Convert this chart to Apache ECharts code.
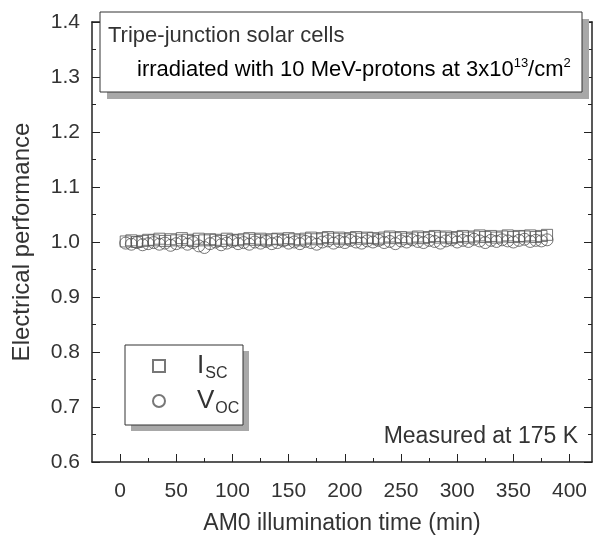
<!DOCTYPE html>
<html>
<head>
<meta charset="utf-8">
<script src="https://cdn.jsdelivr.net/npm/echarts@6/dist/echarts.min.js"></script>
<style>
  html, body { margin: 0; padding: 0; background: #fff; }
  #chart { width: 600px; height: 535px; }
</style>
</head>
<body>
<div id="chart"></div>
<script>
// illumination time (min)
const time = [
  5, 10, 15, 20, 25, 30, 35, 40, 45, 50,
  55, 60, 65, 70, 75, 80, 85, 90, 95, 100,
  105, 110, 115, 120, 125, 130, 135, 140, 145, 150,
  155, 160, 165, 170, 175, 180, 185, 190, 195, 200,
  205, 210, 215, 220, 225, 230, 235, 240, 245, 250,
  255, 260, 265, 270, 275, 280, 285, 290, 295, 300,
  305, 310, 315, 320, 325, 330, 335, 340, 345, 350,
  355, 360, 365, 370, 375, 380
];

// normalised short-circuit current
const isc = [
  1.001, 1.003, 1.000, 1.002, 1.004, 1.003, 1.006, 1.002, 1.005, 1.003,
  1.007, 1.004, 1.002, 1.006, 1.003, 1.005, 1.004, 1.002, 1.006, 1.004,
  1.003, 1.005, 1.007, 1.004, 1.006, 1.003, 1.005, 1.006, 1.004, 1.007,
  1.005, 1.003, 1.006, 1.008, 1.005, 1.007, 1.009, 1.006, 1.008, 1.005,
  1.007, 1.009, 1.006, 1.008, 1.007, 1.005, 1.008, 1.010, 1.007, 1.009,
  1.006, 1.008, 1.010, 1.007, 1.009, 1.011, 1.008, 1.010, 1.007, 1.009,
  1.011, 1.008, 1.010, 1.012, 1.009, 1.011, 1.008, 1.010, 1.012, 1.009,
  1.011, 1.010, 1.012, 1.009, 1.011, 1.013
];

// normalised open-circuit voltage
const voc = [
  0.998, 0.996, 0.999, 0.995, 0.997, 0.999, 0.996, 0.998, 0.994, 0.997,
  1.000, 0.996, 0.999, 0.993, 0.990, 0.997, 1.000, 0.995, 0.998, 1.001,
  0.997, 0.999, 0.996, 1.000, 0.998, 1.001, 0.997, 0.999, 1.002, 0.998,
  1.000, 0.997, 1.001, 0.999, 0.996, 1.000, 1.002, 0.998, 1.001, 0.999,
  1.003, 1.000, 0.998, 1.002, 1.000, 1.003, 0.999, 1.001, 0.997, 1.002,
  1.000, 1.004, 1.001, 0.999, 1.003, 1.001, 0.998, 1.002, 1.004, 1.000,
  1.003, 1.001, 1.005, 1.002, 0.999, 1.003, 1.001, 1.004, 1.002, 1.000,
  1.003, 1.005, 1.001, 1.003, 1.002, 1.004
];

const xTicks = [0, 50, 100, 150, 200, 250, 300, 350, 400];
const xMinorTicks = [25, 75, 125, 175, 225, 275, 325, 375];

const chart = echarts.init(document.getElementById('chart'));
const font = 'Liberation Sans, Arial, sans-serif';
const ink = '#333';
const frameColor = '#222';

const markerStyle = { color: 'rgba(0,0,0,0)', borderColor: '#555', borderWidth: 1 };

const line = { show: true, onZero: false, lineStyle: { color: frameColor, width: 1.5 } };
const noLine = { show: false, onZero: false };
const tick = (len, vals) => ({ show: true, inside: true, length: len, customValues: vals, lineStyle: { color: frameColor } });

const xBase = { type: 'value', min: -25, max: 420, splitLine: { show: false } };
const yBase = {
  type: 'value', min: 0.6, max: 1.4, interval: 0.1, splitLine: { show: false },
  axisLine: line,
  axisTick: { show: true, inside: true, length: 8, lineStyle: { color: frameColor } },
  minorTick: { show: true, splitNumber: 2, length: 4, lineStyle: { color: frameColor } },
};

const option = {
  animation: false,
  backgroundColor: '#fff',
  textStyle: { fontFamily: font },
  grid: { left: 92, right: 8, top: 22, bottom: 73, outerBoundsMode: 'none', containLabel: false },
  xAxis: [
    {
      ...xBase,
      axisLine: line,
      axisTick: tick(8, xTicks),
      axisLabel: { color: ink, fontSize: 21, margin: 19, customValues: xTicks },
      name: 'AM0 illumination time (min)',
      nameLocation: 'middle', nameGap: 50,
      nameTextStyle: { color: ink, fontSize: 23, fontFamily: font },
    },
    {
      ...xBase, position: 'bottom',
      axisLine: noLine,
      axisTick: tick(4, xMinorTicks),
      axisLabel: { show: false },
    },
    {
      ...xBase, position: 'top',
      axisLine: line,
      axisTick: tick(8, xTicks),
      axisLabel: { show: false },
    },
  ],
  yAxis: [
    {
      ...yBase,
      axisLabel: { color: ink, fontSize: 21, margin: 12, formatter: (v) => v.toFixed(1) },
      name: 'Electrical performance',
      nameLocation: 'middle', nameGap: 58,
      nameTextStyle: { color: ink, fontSize: 24, fontFamily: font },
    },
    {
      ...yBase, position: 'right',
      axisLabel: { show: false },
    },
  ],
  legend: {
    orient: 'vertical', left: 147, top: 348, z: 20,
    itemWidth: 12, itemHeight: 12, itemGap: 6,
    data: [
      { name: 'Isc', icon: 'rect' },
      { name: 'Voc', icon: 'circle' },
    ],
    textStyle: {
      color: ink, fontFamily: font,
      rich: {
        b: { fontSize: 26, color: ink, padding: [0, 0, 0, 27] },
        s: { fontSize: 16, color: ink, padding: [16, 0, 0, 1] },
      },
    },
    formatter: (n) => n === 'Isc' ? '{b|I}{s|SC}' : '{b|V}{s|OC}',
  },
  graphic: [
    // title box with shadow
    { type: 'rect', shape: { x: 107, y: 19, width: 482, height: 80 }, style: { fill: '#a8a8a8' }, z: 10 },
    { type: 'rect', shape: { x: 100, y: 12, width: 482, height: 80 }, style: { fill: '#fff', stroke: '#333', lineWidth: 1 }, z: 11 },
    { type: 'text', x: 108, y: 36, z: 12, style: { text: 'Tripe-junction solar cells', fill: ink, font: '22px ' + font, verticalAlign: 'middle' } },
    {
      type: 'text', x: 137, y: 70, z: 12,
      style: {
        text: '{t|irradiated with 10 MeV-protons at 3x10}{u|13}{t|/cm}{u|2}',
        verticalAlign: 'middle',
        rich: {
          t: { fontSize: 22, fontFamily: font, color: ink },
          u: { fontSize: 13, fontFamily: font, color: ink, padding: [0, 0, 14, 0] },
        },
      },
    },
    // legend box with shadow
    { type: 'rect', shape: { x: 131, y: 351, width: 118, height: 80 }, style: { fill: '#a8a8a8' }, z: 10 },
    { type: 'rect', shape: { x: 125, y: 345, width: 118, height: 80 }, style: { fill: '#fff', stroke: '#333', lineWidth: 1 }, z: 11 },
    // annotation
    { type: 'text', right: 22, top: 425, z: 12, style: { text: 'Measured at 175 K', fill: ink, font: '23px ' + font } },
  ],
  series: [
    {
      name: 'Isc', type: 'scatter', symbol: 'rect', symbolSize: 11,
      itemStyle: markerStyle, z: 5,
      data: time.map((t, i) => [t, isc[i]]),
    },
    {
      name: 'Voc', type: 'scatter', symbol: 'circle', symbolSize: 12,
      itemStyle: markerStyle, z: 5,
      data: time.map((t, i) => [t, voc[i]]),
    },
  ],
};

chart.setOption(option);
</script>
</body>
</html>
